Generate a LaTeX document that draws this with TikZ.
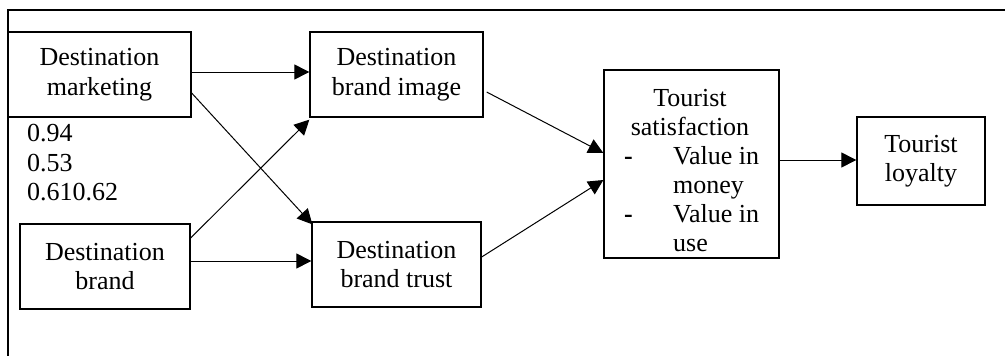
\documentclass[tikz,border=0pt]{standalone}
\usepackage{fontspec}
\setmainfont{Liberation Serif}
\usetikzlibrary{arrows.meta}
\begin{document}
\begin{tikzpicture}[x=1pt,y=-1pt,
  font=\fontsize{26}{29.5}\selectfont,
  box/.style={draw,line width=1.3pt,align=center,inner sep=0pt},
  txt/.style={inner sep=0pt,anchor=base west},
  conn/.style={line width=1pt,-{Triangle[length=15pt,width=15pt]}}]
\useasboundingbox (0,0) rectangle (1005,356);
\draw[line width=1.5pt] (8,356) -- (8,10) -- (1005,10);
\node[box,minimum width=183pt,minimum height=85pt] (dm) at (99.5,74.5) {Destination\\marketing};
\node[box,minimum width=170pt,minimum height=85pt] (db) at (105,266.5) {Destination\\brand};
\node[box,minimum width=173pt,minimum height=85pt] (dbi) at (396.5,74.5) {Destination\\brand image};
\node[box,minimum width=169pt,minimum height=85pt] (dbt) at (396.5,264.5) {Destination\\brand trust};
\node[box,minimum width=175pt,minimum height=188pt] (ts) at (691.5,164) {};
\node[box,minimum width=128pt,minimum height=88pt] (tl) at (921,161) {Tourist\\loyalty};
\node[txt] (n1) at (27,141.5) {0.94};
\node[txt] (n2) at (27,171) {0.53};
\node[txt] (n3) at (27,200.5) {0.610.62};
\node[inner sep=0pt,anchor=base] (ts1) at (690,106.5) {Tourist};
\node[inner sep=0pt,anchor=base] (ts2) at (690,135.5) {satisfaction};
\node[txt,font=\fontsize{26}{29.5}\selectfont\bfseries] (b1) at (624,164.5) {-};
\node[txt] (v1) at (673,164.5) {Value in};
\node[txt] (v2) at (673,193.5) {money};
\node[txt,font=\fontsize{26}{29.5}\selectfont\bfseries] (b2) at (624,222.5) {-};
\node[txt] (v3) at (673,222.5) {Value in};
\node[txt] (v4) at (673,251.5) {use};
\draw[conn] ([yshift=2.5pt]dm.east) -- ([yshift=2.5pt]dbi.west);
\draw[conn] ([yshift=-18.5pt]dm.east) -- ([xshift=1pt,yshift=-3pt]dbt.north west);
\draw[conn] ([yshift=28.5pt]db.east) -- ([yshift=-2pt]dbi.south west);
\draw[conn] ([yshift=5.5pt]db.east) -- ([yshift=3.5pt]dbt.west);
\draw[conn] ([xshift=3pt,yshift=-17.5pt]dbi.east) -- ([yshift=11pt]ts.west);
\draw[conn] ([yshift=7.5pt]dbt.east) -- ([yshift=-16pt]ts.west);
\draw[conn] ([yshift=4pt]ts.east) -- ([yshift=4pt]ts.east -| tl.west);
\end{tikzpicture}
\end{document}
